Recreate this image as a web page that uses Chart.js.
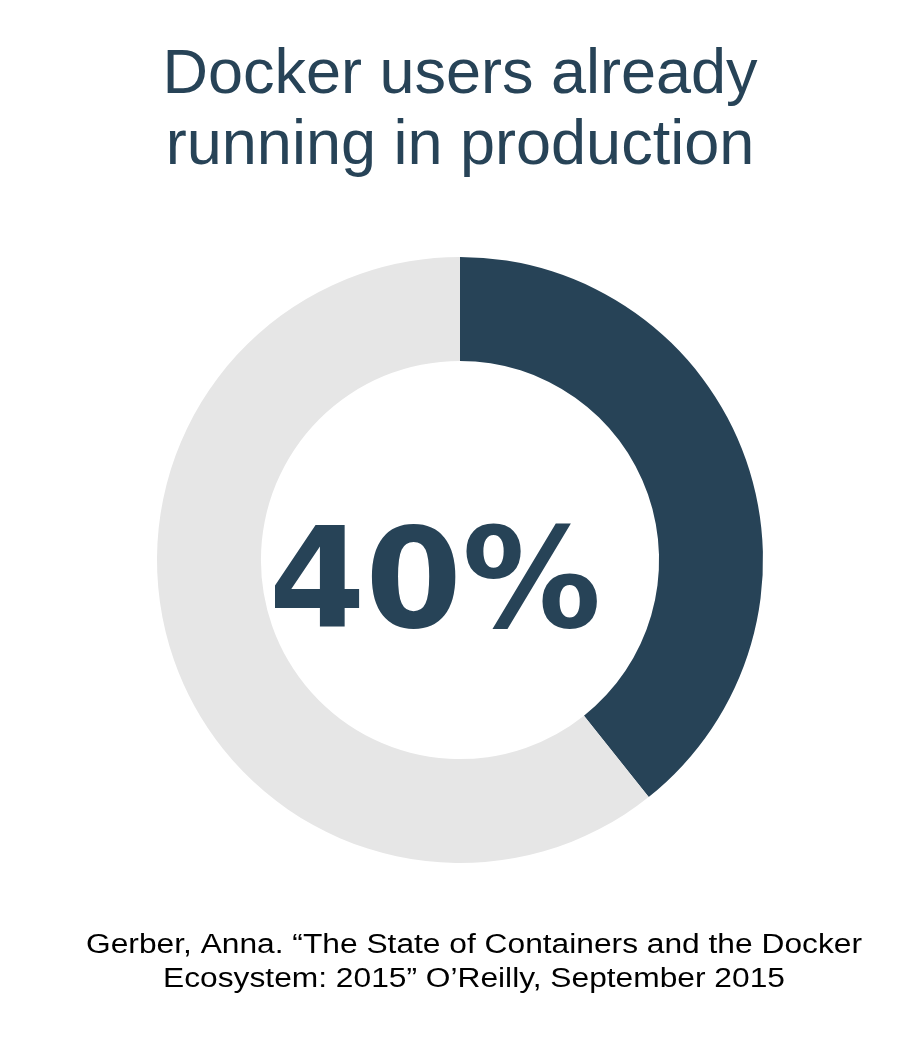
<!DOCTYPE html>
<html>
<head>
<meta charset="utf-8">
<script src="https://cdn.jsdelivr.net/npm/chart.js@4/dist/chart.umd.min.js"></script>
<style>
  html, body { margin: 0; padding: 0; background: #ffffff; }
  #wrap { width: 920px; height: 1050px; position: relative; }
</style>
</head>
<body>
<div id="wrap"><canvas id="c" width="920" height="1050"></canvas></div>
<script>
const categories = ["Running in production", "Not yet in production"];
const shareValues = [39.3, 60.7];
const titleLines = ["Docker users already", "running in production"];
const sourceLines = ["Gerber, Anna. \u201CThe State of Containers and the Docker", "Ecosystem: 2015\u201D O\u2019Reilly, September 2015"];
const centerLabel = "40%";

const DARK = "#274357";
const GREY = "#e6e6e6";

const centerTextPlugin = {
  id: "centerText",
  afterDatasetsDraw(chart) {
    const meta = chart.getDatasetMeta(0);
    if (!meta.data.length) return;
    const arc = meta.data[0];
    const ctx = chart.ctx;
    ctx.save();
    ctx.fillStyle = DARK;
    ctx.font = "bold 139px 'DejaVu Sans'";
    ctx.textAlign = "center";
    ctx.textBaseline = "alphabetic";
    ctx.fillText(centerLabel, arc.x - 25, arc.y + 67);
    ctx.restore();
  }
};

const sourcePlugin = {
  id: "sourceText",
  afterDraw(chart) {
    const ctx = chart.ctx;
    const area = chart.chartArea;
    ctx.save();
    ctx.fillStyle = "#000000";
    ctx.font = "27px 'Liberation Sans', Arial, sans-serif";
    ctx.textAlign = "center";
    ctx.textBaseline = "alphabetic";
    const cx = (area.left + area.right) / 2 + 14;
    const sx = 1.175;
    ctx.translate(cx, 0);
    ctx.scale(sx, 1);
    sourceLines.forEach((line, i) => {
      ctx.fillText(line, 0, area.bottom + 90 + i * 34);
    });
    ctx.restore();
  }
};

new Chart(document.getElementById("c"), {
  type: "doughnut",
  data: {
    labels: categories,
    datasets: [{
      data: shareValues,
      backgroundColor: [DARK, GREY],
      borderWidth: 0,
      hoverOffset: 0
    }]
  },
  options: {
    responsive: false,
    animation: false,
    events: [],
    cutout: "65.7%",
    rotation: 0,
    layout: { padding: { left: 0, right: 0, top: 0, bottom: 187 } },
    plugins: {
      legend: { display: false },
      tooltip: { enabled: false },
      title: {
        display: true,
        text: titleLines,
        color: DARK,
        font: { family: "'Liberation Sans', Arial, sans-serif", size: 63, weight: "normal", lineHeight: 71 / 63 },
        padding: { top: 40, bottom: 75 }
      }
    }
  },
  plugins: [centerTextPlugin, sourcePlugin]
});
</script>
</body>
</html>
